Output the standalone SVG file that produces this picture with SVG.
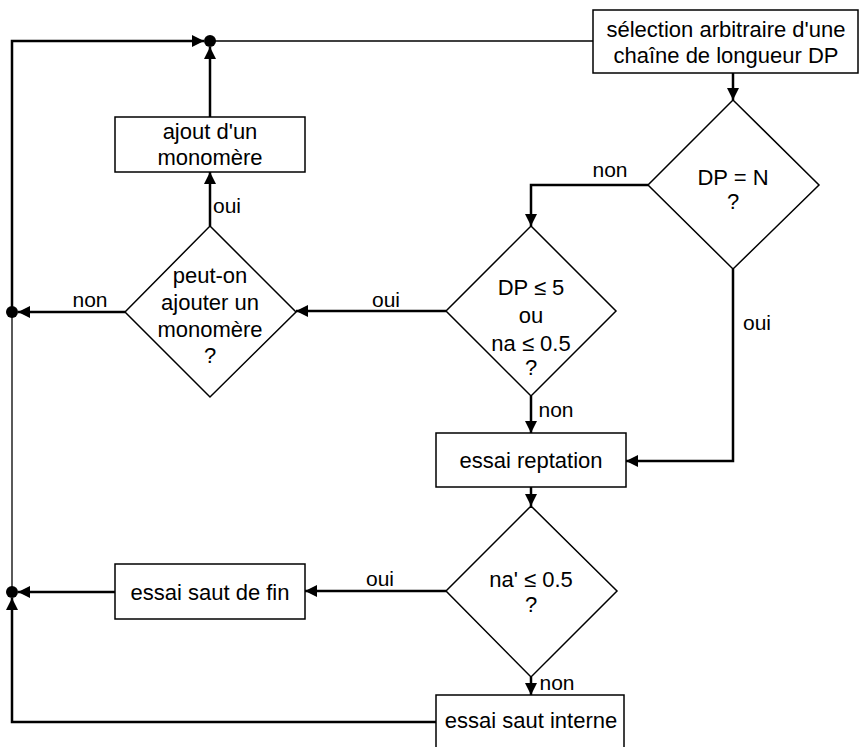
<svg xmlns="http://www.w3.org/2000/svg" width="862" height="747" viewBox="0 0 862 747">
<style>
.shape{fill:#fff;stroke:#000;stroke-width:1.5}
.t{font-family:"Liberation Sans",Arial,sans-serif;font-size:22px;fill:#000;text-anchor:middle}
.l{font-family:"Liberation Sans",Arial,sans-serif;font-size:21px;fill:#000;text-anchor:middle}
.c{fill:none;stroke:#000;stroke-width:2.5}
.thin{fill:none;stroke:#000;stroke-width:1.3}
</style>
<defs>
<marker id="arr" markerUnits="userSpaceOnUse" markerWidth="12" markerHeight="12" viewBox="0 0 10 10" refX="10" refY="5" orient="auto">
<path d="M0,0 L10,5 L0,10 Z" fill="#000"/>
</marker>
</defs>
<g id="connectors">
<line class="thin" x1="593" y1="41" x2="210" y2="41"/>
<polyline class="c" points="12,312 12,41 204,41" marker-end="url(#arr)"/>
<line class="thin" x1="12" y1="312" x2="12" y2="592"/>
<polyline class="c" points="436,722 12,722 12,598" marker-end="url(#arr)"/>
<line class="c" x1="210" y1="117" x2="210" y2="47" marker-end="url(#arr)"/>
<line class="c" x1="210" y1="226" x2="210" y2="172" marker-end="url(#arr)"/>
<line class="c" x1="125" y1="312" x2="18" y2="312" marker-end="url(#arr)"/>
<line class="c" x1="446" y1="311" x2="296" y2="311" marker-end="url(#arr)"/>
<line class="c" x1="733" y1="73" x2="733" y2="100" marker-end="url(#arr)"/>
<polyline class="c" points="648,185 531,185 531,226" marker-end="url(#arr)"/>
<polyline class="c" points="733,269 733,461 626,461" marker-end="url(#arr)"/>
<line class="c" x1="531" y1="396" x2="531" y2="433" marker-end="url(#arr)"/>
<line class="c" x1="531" y1="487" x2="531" y2="506" marker-end="url(#arr)"/>
<line class="c" x1="446" y1="591" x2="305" y2="591" marker-end="url(#arr)"/>
<line class="c" x1="115" y1="592" x2="18" y2="592" marker-end="url(#arr)"/>
<line class="c" x1="531" y1="677" x2="531" y2="695" marker-end="url(#arr)"/>
<circle cx="210" cy="41" r="6" fill="#000"/>
<circle cx="12" cy="312" r="6" fill="#000"/>
<circle cx="12" cy="592" r="6" fill="#000"/>
<text class="l" x="610" y="177">non</text>
<text class="l" x="757" y="330">oui</text>
<text class="l" x="90" y="307">non</text>
<text class="l" x="227" y="213">oui</text>
<text class="l" x="386" y="307">oui</text>
<text class="l" x="556" y="417">non</text>
<text class="l" x="380" y="586">oui</text>
<text class="l" x="557" y="690">non</text>
</g>
<g id="selection">
<rect class="shape" x="593" y="10" width="265" height="63"/>
<text class="t" x="726" y="37">sélection arbitraire d'une<tspan x="726" dy="26">chaîne de longueur DP</tspan></text>
</g>
<g id="dpn">
<polygon class="shape" points="733,100 819,185 733,269 648,185"/>
<text class="t" x="733" y="185">DP = N<tspan x="733" dy="24">?</tspan></text>
</g>
<g id="dp5">
<polygon class="shape" points="531,226 616,311 531,396 446,311"/>
<text class="t" x="531" y="295">DP ≤ 5<tspan x="531" dy="28">ou</tspan><tspan x="531" dy="28">na ≤ 0.5</tspan><tspan x="531" dy="24">?</tspan></text>
</g>
<g id="peuton">
<polygon class="shape" points="210,226 296,312 210,397 125,312"/>
<text class="t" x="210" y="283">peut-on<tspan x="210" dy="27">ajouter un</tspan><tspan x="210" dy="27">monomère</tspan><tspan x="210" dy="26">?</tspan></text>
</g>
<g id="ajout">
<rect class="shape" x="115" y="117" width="190" height="55"/>
<text class="t" x="210" y="139">ajout d'un<tspan x="210" dy="26">monomère</tspan></text>
</g>
<g id="reptation">
<rect class="shape" x="436" y="433" width="190" height="54"/>
<text class="t" x="531" y="468">essai reptation</text>
</g>
<g id="naprime">
<polygon class="shape" points="531,506 617,591 531,677 446,591"/>
<text class="t" x="531" y="587">na' ≤ 0.5<tspan x="531" dy="25">?</tspan></text>
</g>
<g id="sautfin">
<rect class="shape" x="115" y="564" width="190" height="55"/>
<text class="t" x="210" y="600">essai saut de fin</text>
</g>
<g id="sautinterne">
<rect class="shape" x="436" y="695" width="188" height="60"/>
<text class="t" x="531" y="728">essai saut interne</text>
</g>
</svg>
